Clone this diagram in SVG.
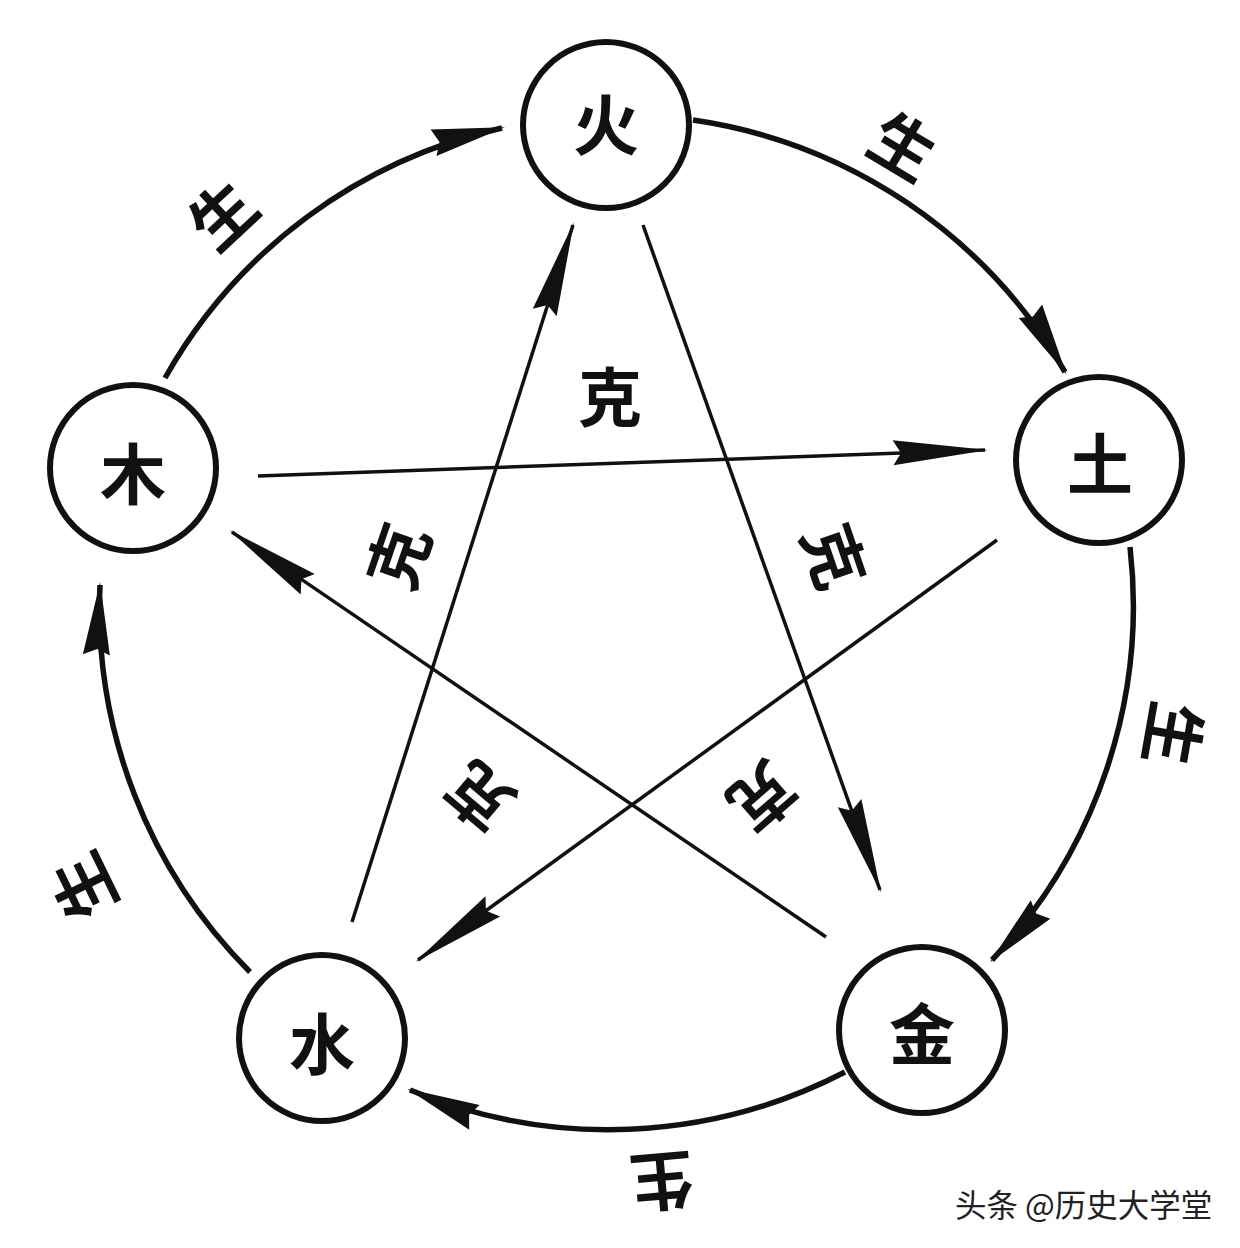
<svg xmlns="http://www.w3.org/2000/svg" width="1240" height="1248" viewBox="0 0 1240 1248">
<style>
.node circle{fill:#fff;stroke:#111;stroke-width:6}
.node text{font-family:"Noto Sans CJK SC","Noto Sans CJK JP",sans-serif;font-weight:700;font-size:66px;fill:#111;text-anchor:middle;dominant-baseline:central}
.lbl{font-family:"Noto Sans CJK SC","Noto Sans CJK JP",sans-serif;font-weight:700;font-size:64px;fill:#111;text-anchor:middle;dominant-baseline:central}
.arc{fill:none;stroke:#111;stroke-width:5.5;marker-end:url(#head)}
.star{fill:none;stroke:#111;stroke-width:3.5;marker-end:url(#head2)}
.wm{font-family:"Noto Sans CJK SC",sans-serif;font-size:31.5px;fill:#222}
</style>
<defs>
<marker id="head" markerUnits="userSpaceOnUse" markerWidth="100" markerHeight="40" refX="0" refY="0" orient="auto" overflow="visible">
<path d="M3,0 L-70,-14 L-64,0 L-70,13 Z" fill="#111"/>
</marker>
<marker id="head2" markerUnits="userSpaceOnUse" markerWidth="110" markerHeight="40" refX="0" refY="0" orient="auto" overflow="visible">
<path d="M3,0 L-92,-13 L-84,0 L-92,12 Z" fill="#111"/>
</marker>
</defs>
<rect width="1240" height="1248" fill="#fff"/>
<g id="connectors">
<path class="arc" d="M165,378 A515,515 0 0 1 502,128"/>
<path class="arc" d="M693,120 A515,515 0 0 1 1065,372"/>
<path class="arc" d="M1130,547 A515,515 0 0 1 992,960"/>
<path class="arc" d="M845,1072 A515,515 0 0 1 410,1090"/>
<path class="arc" d="M250,972 A515,515 0 0 1 100,585"/>
<path class="star" d="M258,476 L985,450"/>
<path class="star" d="M997,540 L418,960"/>
<path class="star" d="M352,922 L573,225"/>
<path class="star" d="M643,225 L880,890"/>
<path class="star" d="M826,937 L232,532"/>
</g>
<g id="huo" class="node"><circle cx="606" cy="125" r="83"/><text x="606" y="121">火</text></g>
<g id="tu" class="node"><circle cx="1099" cy="460" r="83"/><text x="1100" y="460">土</text></g>
<g id="jin" class="node"><circle cx="922" cy="1030" r="83"/><text x="922" y="1030">金</text></g>
<g id="shui" class="node"><circle cx="322" cy="1038" r="83"/><text x="322" y="1040">水</text></g>
<g id="mu" class="node"><circle cx="133" cy="468" r="83"/><text x="133" y="470">木</text></g>
<g id="labels">
<text class="lbl" transform="translate(220,212) rotate(-43)">生</text>
<text class="lbl" transform="translate(905,143) rotate(31)">生</text>
<text class="lbl" transform="translate(1177,735) rotate(100)">生</text>
<text class="lbl" transform="translate(662,1185) rotate(175)">生</text>
<text class="lbl" transform="translate(80,888) rotate(-116)">生</text>
<text class="lbl" transform="translate(610,393)">克</text>
<text class="lbl" transform="translate(395,555) rotate(-71)">克</text>
<text class="lbl" transform="translate(838,555) rotate(71)">克</text>
<text class="lbl" transform="translate(477,800) rotate(-140)">克</text>
<text class="lbl" transform="translate(765,800) rotate(139)">克</text>
</g>
<text class="wm" x="955" y="1217">头条 @历史大学堂</text>
</svg>
